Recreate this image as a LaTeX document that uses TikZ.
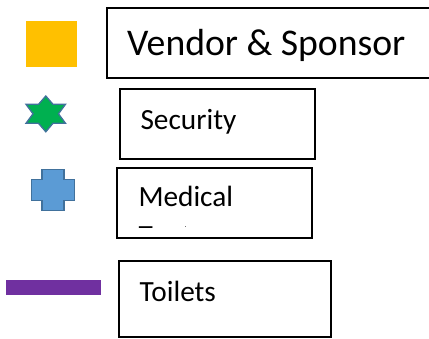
\documentclass[tikz,border=0pt]{standalone}
\usepackage{fontspec}
\setmainfont{Carlito}
\tikzset{
  legendbox/.style={draw=black,line width=1.6pt,fill=white},
  legendtext/.style={anchor=base west,inner sep=0pt,text=black},
  shapeedge/.style={draw=edgeblue,line width=1.3pt,line join=miter}
}
\definecolor{edgeblue}{HTML}{41719C}
\definecolor{vendorfill}{HTML}{FFC000}
\definecolor{starfill}{HTML}{00B050}
\definecolor{crossfill}{HTML}{5B9BD5}
\definecolor{toiletfill}{HTML}{7030A0}
\begin{document}
\begin{tikzpicture}[x=1pt,y=-1pt]
\useasboundingbox (0,0) rectangle (429,338);
% key shapes
\fill[vendorfill] (25.5,21) rectangle (77,67);
\filldraw[shapeedge,fill=starfill] (45.8,96) -- (53,104.3) -- (65.5,104.3) -- (58.5,113.8) -- (65.5,123.3) -- (53,123.3) -- (45.8,131.8) -- (38.5,123.3) -- (26,123.3) -- (33,113.8) -- (26,104.3) -- (38.5,104.3) -- cycle;
\filldraw[shapeedge,fill=crossfill] (42,169.5) -- (64,169.5) -- (64,179.5) -- (74.5,179.5) -- (74.5,200.5) -- (64,200.5) -- (64,210.5) -- (42,210.5) -- (42,200.5) -- (31.5,200.5) -- (31.5,179.5) -- (42,179.5) -- cycle;
\fill[toiletfill] (5.5,279.5) rectangle (100.5,294.5);
% boxes
\draw[legendbox] (107,8) rectangle (431,78);
\draw[legendbox] (120,89) rectangle (315,159);
\draw[legendbox] (117,168) rectangle (312,238);
\draw[legendbox] (119,261) rectangle (331,337);
% labels
\node[legendtext,font=\fontsize{37.7pt}{40pt}\selectfont] (vendor) at (127,55) {Vendor \& Sponsor};
\node[legendtext,font=\fontsize{29.3pt}{32pt}\selectfont] (security) at (140.3,129) {Security};
\node[legendtext,font=\fontsize{29.3pt}{32pt}\selectfont] (medical) at (138.3,206) {Medical};
\node[legendtext,font=\fontsize{29.3pt}{32pt}\selectfont] (toilets) at (139.5,301) {Toilets};
% second line of the medical label, cut off by its frame
\begin{scope}
\clip (130,224) rectangle (300,227.5);
\node[legendtext,font=\fontsize{29.3pt}{32pt}\selectfont] (medicaltwo) at (138.3,245) {T};
\end{scope}
\fill[black!55] (185,226) rectangle (186.2,227.2);
\end{tikzpicture}
\end{document}
